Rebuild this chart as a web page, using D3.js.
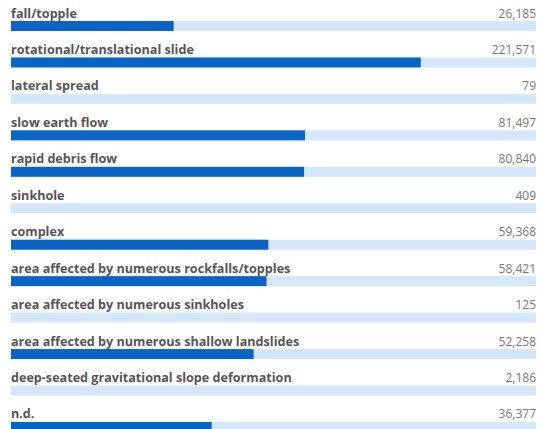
<!DOCTYPE html>
<html>
<head>
<meta charset="utf-8">
<script src="https://cdn.jsdelivr.net/npm/d3@7"></script>
<style>
  body { margin: 0; background: #fff; }
  svg { display: block; }
</style>
</head>
<body>
<div class="visual"></div>
<script>
const categories = [
  "fall/topple",
  "rotational/translational slide",
  "lateral spread",
  "slow earth flow",
  "rapid debris flow",
  "sinkhole",
  "complex",
  "area affected by numerous rockfalls/topples",
  "area affected by numerous sinkholes",
  "area affected by numerous shallow landslides",
  "deep-seated gravitational slope deformation",
  "n.d."
];
const values = [26185, 221571, 79, 81497, 80840, 409, 59368, 58421, 125, 52258, 2186, 36377];

const width = 541, height = 429;
const left = 11, right = 536;
const rowStep = 36.45;
const barH = 10;

const dataset = categories.map((c, i) => ({ name: c, value: values[i] }));

const svg = d3.select(".visual").append("svg")
  .attr("width", width)
  .attr("height", height);

const y = d3.scaleBand()
  .domain(categories)
  .range([0, rowStep * categories.length])
  .padding(0);

// log scale, small values collapse to nothing
const x = d3.scaleLog()
  .domain([6420, 600000])
  .range([left, right])
  .clamp(true);

const fmt = d3.format(",");

const rows = svg.selectAll("g.row")
  .data(dataset)
  .enter()
  .append("g")
  .attr("class", "row")
  .attr("transform", d => `translate(0, ${y(d.name)})`);

rows.append("rect")
  .attr("x", left)
  .attr("y", 21)
  .attr("width", right - left)
  .attr("height", barH)
  .attr("fill", "#d4e6fb");

rows.append("rect")
  .attr("x", left)
  .attr("y", 21)
  .attr("width", d => x(d.value) - left)
  .attr("height", barH)
  .attr("fill", "#0a64c6");

rows.append("text")
  .attr("x", left)
  .attr("y", 17.5)
  .style("font-family", "'Open Sans', sans-serif")
  .style("font-size", "12.6px")
  .style("font-weight", "bold")
  .style("fill", "#555")
  .text(d => d.name);

rows.append("text")
  .attr("x", right)
  .attr("y", 17.5)
  .attr("text-anchor", "end")
  .style("font-family", "'Open Sans', sans-serif")
  .style("font-size", "12px")
  .style("fill", "#777")
  .text(d => fmt(d.value));
</script>
</body>
</html>
